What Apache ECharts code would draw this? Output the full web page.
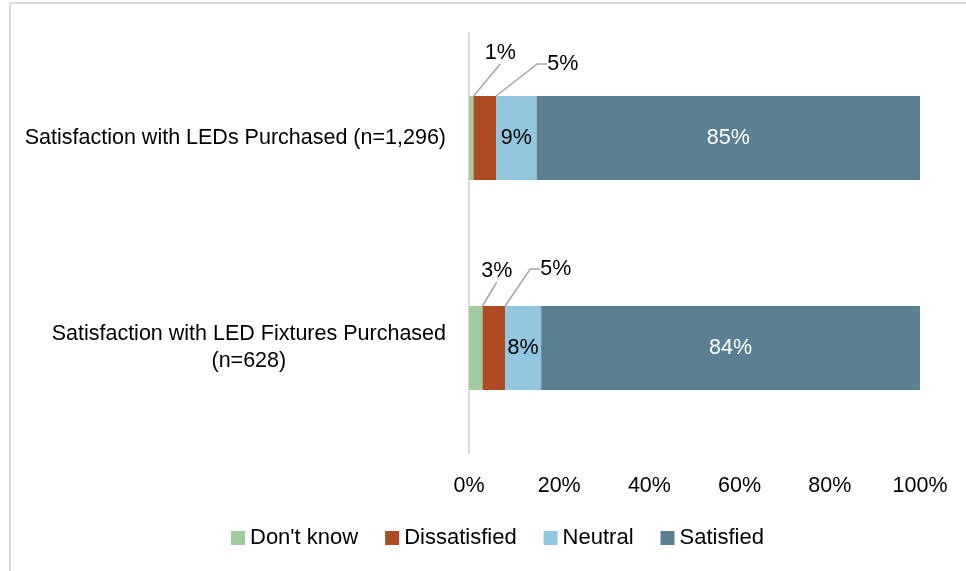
<!DOCTYPE html>
<html>
<head>
<meta charset="utf-8">
<script src="https://cdn.jsdelivr.net/npm/echarts@6/dist/echarts.min.js"></script>
<style>
html,body{margin:0;padding:0;background:#fff;}
#chart{width:966px;height:571px;}
</style>
</head>
<body>
<div id="chart"></div>
<script>
var categories = ['Satisfaction with LEDs Purchased (n=1,296)', 'Satisfaction with LED Fixtures Purchased\n(n=628)'];
var seriesNames = ["Don't know", 'Dissatisfied', 'Neutral', 'Satisfied'];
var dontKnow = [1, 3];
var dissatisfied = [5, 5];
var neutral = [9, 8];
var satisfied = [85, 84];
var xTicks = [0, 20, 40, 60, 80, 100];

var FONT = 'Liberation Sans';
var colors = ['#9FCB9F', '#AE4B22', '#92C5DE', '#5B7F93'];

// offsets of outside labels (style/position only)
var outsideOffsets = {
  0: [[29, -27], [21, -19]],
  1: [[78, -16], [62, -21]]
};

function mkSeries(idx, data) {
  var s = {
    name: seriesNames[idx],
    type: 'bar',
    stack: 'total',
    barWidth: '40%',
    data: data,
    itemStyle: { color: colors[idx] },
    label: {
      show: true,
      fontFamily: FONT,
      fontSize: 21.5,
      formatter: '{c}%'
    }
  };
  if (idx <= 1) {
    s.label.position = 'top';
    s.label.color = '#000';
    s.labelLine = { show: true, length2: idx === 1 ? 10 : 0, lineStyle: { color: '#A6A6A6', width: 1.5 } };
    s.labelLayout = function (p) {
      var o = outsideOffsets[idx][p.dataIndex];
      return { dx: o[0], dy: o[1] };
    };
  } else {
    s.label.position = 'inside';
    s.label.color = idx === 3 ? '#fff' : '#000';
  }
  return s;
}

var chart = echarts.init(document.getElementById('chart'), null, { renderer: 'canvas' });
chart.setOption({
  animation: false,
  backgroundColor: '#fff',
  textStyle: { fontFamily: FONT },
  grid: { left: 469, right: 46, top: 33, bottom: 118, containLabel: false },
  graphic: [{
    type: 'rect',
    shape: { x: 10, y: 3, width: 1000, height: 700 },
    style: { fill: 'none', stroke: '#D9D9D9', lineWidth: 2 },
    silent: true,
    z: -10
  }],
  legend: {
    data: seriesNames,
    left: 226,
    top: 522,
    itemWidth: 14,
    itemHeight: 14,
    itemGap: 27,
    icon: 'rect',
    textStyle: { fontFamily: FONT, fontSize: 22, color: '#000' }
  },
  xAxis: {
    type: 'value',
    min: xTicks[0],
    max: xTicks[xTicks.length - 1],
    interval: xTicks[1] - xTicks[0],
    axisLine: { show: false },
    axisTick: { show: false },
    splitLine: { show: false },
    axisLabel: { formatter: '{value}%', fontFamily: FONT, fontSize: 21.5, color: '#000', margin: 22 }
  },
  yAxis: {
    type: 'category',
    inverse: true,
    data: categories,
    axisLine: { show: true, lineStyle: { color: '#D9D9D9', width: 2 } },
    axisTick: { show: false },
    axisLabel: {
      margin: 23,
      fontFamily: FONT,
      fontSize: 21.5,
      color: '#000',
      lineHeight: 27,
      formatter: function (v) {
        return v.split('\n').map(function (l) { return '{c|' + l + '}'; }).join('\n');
      },
      rich: { c: { align: 'center', fontFamily: FONT, fontSize: 21.5, color: '#000', lineHeight: 27 } }
    }
  },
  series: [
    mkSeries(0, dontKnow),
    mkSeries(1, dissatisfied),
    mkSeries(2, neutral),
    mkSeries(3, satisfied)
  ]
});
</script>
</body>
</html>
